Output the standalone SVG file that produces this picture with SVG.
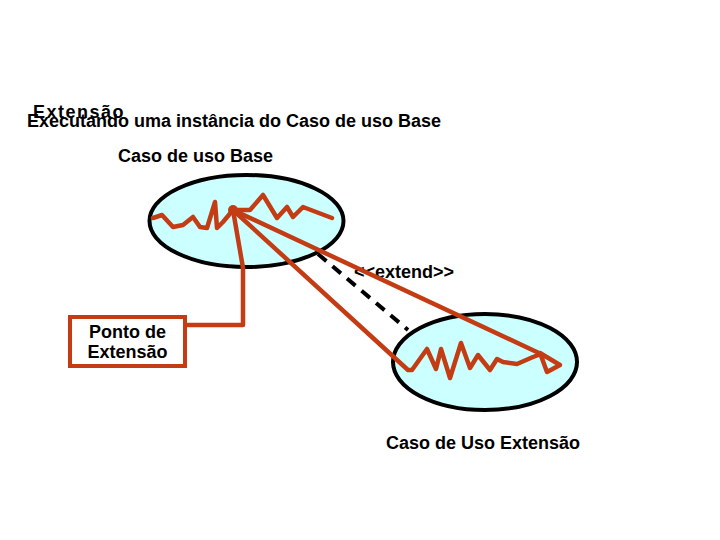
<svg xmlns="http://www.w3.org/2000/svg" width="720" height="540" viewBox="0 0 720 540">
<style>
text{font-family:"Liberation Sans",Arial,sans-serif;font-weight:bold;font-size:18px;fill:#000}
.uc{fill:#CCFFFF;stroke:#000;stroke-width:4}
.red{fill:none;stroke:#C33C14;stroke-width:4.5;stroke-linejoin:round;stroke-linecap:round}
.dash{fill:none;stroke:#000;stroke-width:4;stroke-dasharray:11 8}
</style>
<rect width="720" height="540" fill="#fff"/>
<text x="33" y="118" style="letter-spacing:1.5px">Extensão</text>
<text x="27" y="127">Executando uma instância do Caso de uso Base</text>
<g id="base">
<ellipse class="uc" cx="246.5" cy="221" rx="97" ry="46"/>
<text x="118" y="162">Caso de uso Base</text>
</g>
<g id="extensao">
<ellipse class="uc" cx="485" cy="362" rx="92" ry="48"/>
<text x="386" y="449">Caso de Uso Extensão</text>
</g>
<g id="ponto">
<rect x="70" y="317" width="115" height="49" fill="#fff" stroke="#C33C14" stroke-width="4"/>
<text x="127.5" y="338" text-anchor="middle">Ponto de</text>
<text x="127.5" y="358" text-anchor="middle">Extensão</text>
</g>
<g id="connectors">
<path class="dash" d="M318,254 L408,330"/>
<text x="354" y="278">&lt;&lt;extend&gt;&gt;</text>
<polyline class="red" points="153,218 162,215 173,227 183,225 193,217 200,227 207,228 215,202 217,228 223,222 233,210 250,210 263,195 277,218 287,207 293,217 303,207 332,218"/>
<circle cx="233" cy="210" r="5" fill="#C33C14"/>
<polyline class="red" points="233,210 243,268 243,325 187,325"/>
<polyline class="red" points="233,210 408,370 412,370 427,349 436,369 441,349 450,378 461,343 470,368 478,355 490,370 497,359 503,362 517,364 533,357 541,354"/>
<path class="red" d="M233,210 L541,354"/>
<polygon class="red" points="540,353 560,365 547,372"/>
</g>
</svg>
